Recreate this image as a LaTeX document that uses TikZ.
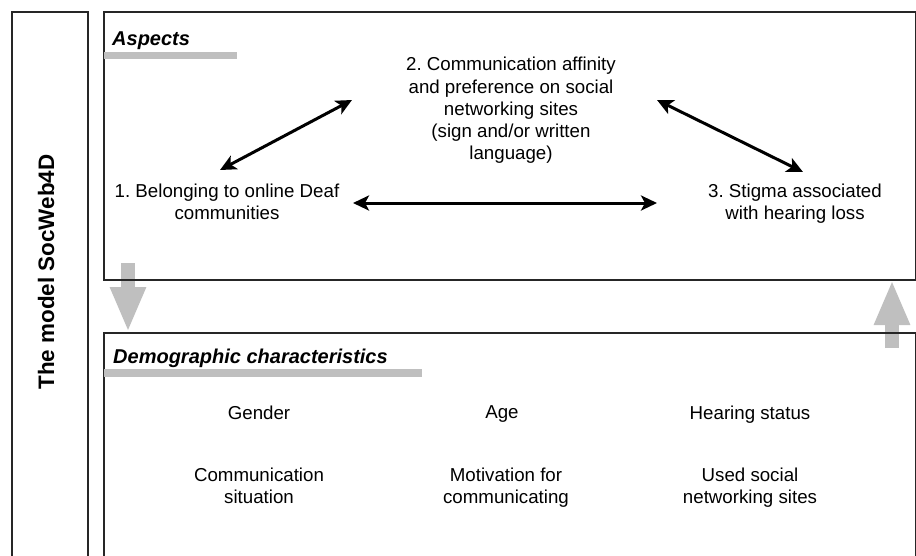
\documentclass[tikz,border=0pt]{standalone}
\usepackage{fontspec}
\setmainfont{Liberation Sans}
\usetikzlibrary{arrows.meta}
\frenchspacing

\tikzset{
  frame/.style={draw=black!85, line width=2pt},
  underbar/.style={fill=black!25},
  heading/.style={font=\fontsize{20}{24}\selectfont\bfseries\itshape, anchor=base west, inner sep=0pt},
  aspect/.style={font=\fontsize{18.7}{22.3}\selectfont, align=center, inner sep=2pt},
  trait/.style={font=\fontsize{18.7}{22.3}\selectfont, align=center, inner sep=2pt},
  link/.style={line width=3pt, {Stealth[length=16pt,width=15pt,inset=4pt]}-{Stealth[length=16pt,width=15pt,inset=4pt]}},
  flow/.style={draw=black!25, line width=14pt, -{Triangle[length=45pt,width=33pt]}},
}

\begin{document}
\begin{tikzpicture}[x=1pt, y=-1pt]
  \useasboundingbox (0,0) rectangle (916,555);
  \clip (0,0) rectangle (916,555);

  % grey arrows between the two panels
  \coordinate (down from) at (128,263);
  \coordinate (down to) at (128,332);
  \coordinate (up from) at (892,348);
  \coordinate (up to) at (892,280);
  \draw[flow] (down from) -- (down to);
  \draw[flow] (up from) -- (up to);

  % frames
  \draw[frame] (12,12) rectangle (88,575);
  \draw[frame] (104,12) rectangle (916,280);
  \draw[frame] (104,333) rectangle (916,575);
  \fill[underbar] (104,52) rectangle (237,59);
  \fill[underbar] (104,369) rectangle (422,377);

  \node[font=\fontsize{22.4}{26}\selectfont\bfseries, rotate=90, anchor=base, inner sep=0pt] (model) at (54,272) {The model SocWeb4D};

  \node[heading] (aspects) at (112,45) {Aspects};
  \node[heading] (demographics) at (113,363) {Demographic characteristics};

  % aspects
  \node[aspect] (affinity) at (511,110.5) {2. Communication affinity\\and preference on social\\networking sites\\(sign and/or written\\language)};
  \node[aspect] (belonging) at (227,201.5) {1. Belonging to online Deaf\\communities};
  \node[aspect] (stigma) at (795,203.5) {3. Stigma associated\\with hearing loss};

  \draw[link] ([shift={(-7,-31.5)}]belonging.center) -- ([shift={(-159,-10.5)}]affinity.center);
  \draw[link] ([shift={(146,-10.5)}]affinity.center) -- ([shift={(8,-31.5)}]stigma.center);
  \draw[link] ([shift={(126,1.5)}]belonging.center) -- ([shift={(-138,-0.5)}]stigma.center);

  % demographic characteristics
  \node[trait] (gender) at (259,412.5) {Gender};
  \node[trait] (age) at (502,414.5) {Age};
  \node[trait] (hearing) at (750,414.5) {Hearing status};
  \node[trait] (situation) at (259,485.5) {Communication\\situation};
  \node[trait] (motivation) at (506,487.5) {Motivation for\\communicating};
  \node[trait] (sites) at (750,488) {Used social\\networking sites};
\end{tikzpicture}
\end{document}
